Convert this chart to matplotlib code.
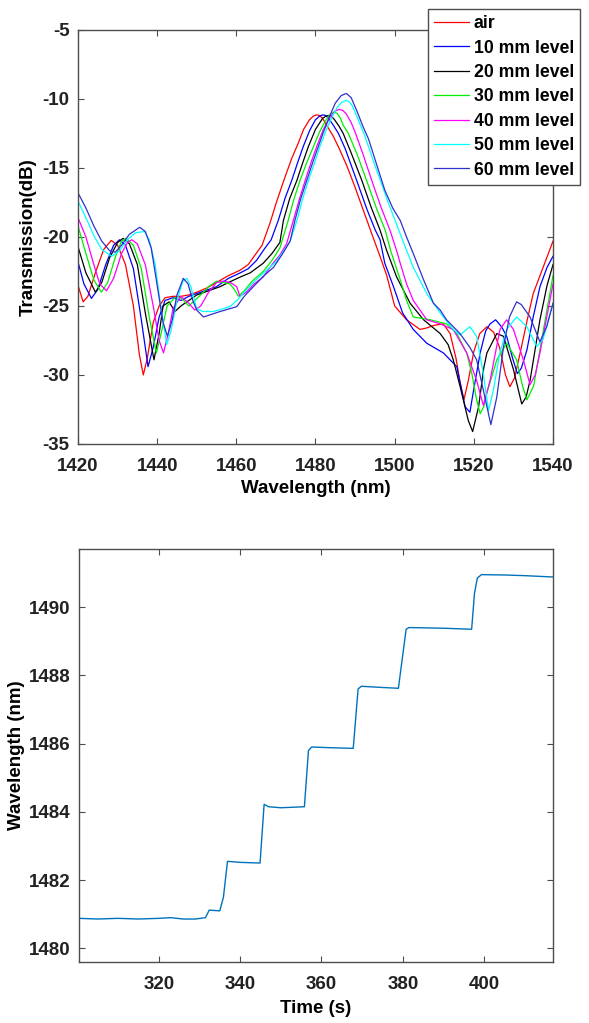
# Transmission spectra at several liquid levels, plus resonance wavelength vs time.

import matplotlib.pyplot as plt

# ── data: spectra (wavelength nm, transmission dB) ────────────────────────────
wl_air = [1420.0, 1421.3, 1422.5, 1424.5, 1426.5, 1428.4, 1430.0, 1432.0, 1434.0, 1435.5,
          1436.5, 1437.5, 1439.0, 1440.5, 1442.0, 1444.0, 1446.0, 1448.0, 1450.0, 1452.5,
          1455.0, 1458.0, 1461.0, 1463.0, 1465.0, 1466.5, 1468.5, 1470.0, 1472.0, 1474.0,
          1475.5, 1477.0, 1478.5, 1479.4, 1480.3, 1481.0, 1481.8, 1483.0, 1484.5, 1486.0,
          1488.0, 1490.0, 1492.0, 1494.0, 1496.3, 1498.0, 1500.0, 1503.0, 1506.4, 1508.0,
          1510.0, 1512.3, 1514.0, 1515.5, 1516.5, 1517.5, 1518.6, 1520.0, 1521.5, 1523.3,
          1525.0, 1526.5, 1528.0, 1529.1, 1530.3, 1531.7, 1533.5, 1535.0, 1537.5, 1540.0]
tr_air = [-23.5, -24.7, -24.3, -22.5, -20.9, -20.25, -20.6, -22.0, -25.0, -28.5,
          -30.0, -28.8, -26.2, -25.0, -24.4, -24.3, -24.3, -24.2, -24.0, -23.7,
          -23.3, -22.8, -22.4, -22.0, -21.2, -20.6, -19.0, -17.6, -15.9, -14.3,
          -13.3, -12.2, -11.5, -11.25, -11.15, -11.2, -11.4, -12.0, -12.7, -13.6,
          -14.9, -16.4, -18.0, -19.6, -21.4, -22.8, -25.0, -26.0, -26.7, -26.6,
          -26.4, -26.3, -27.0, -28.8, -30.5, -31.8, -30.4, -28.3, -27.0, -26.5,
          -26.9, -28.0, -30.0, -30.85, -30.2, -28.4, -26.0, -24.1, -22.2, -20.3]

wl_10 = [1420.0, 1421.5, 1423.4, 1425.0, 1427.0, 1429.0, 1430.5, 1432.0, 1434.0, 1436.0,
         1437.7, 1439.0, 1440.5, 1442.0, 1444.0, 1446.0, 1448.0, 1450.0, 1452.0, 1455.0,
         1458.0, 1461.0, 1463.0, 1465.1, 1467.0, 1468.8, 1470.6, 1472.3, 1474.0, 1475.5,
         1476.9, 1478.5, 1480.0, 1481.0, 1481.8, 1482.6, 1483.3, 1484.5, 1485.8, 1487.5,
         1490.4, 1493.0, 1495.1, 1496.3, 1497.5, 1499.7, 1502.0, 1504.7, 1508.1, 1512.3,
         1515.7, 1517.0, 1517.8, 1519.0, 1520.0, 1521.6, 1523.0, 1524.1, 1525.5, 1527.0,
         1528.3, 1529.8, 1531.0, 1532.0, 1533.4, 1535.0, 1536.7, 1538.5, 1540.0]
tr_10 = [-21.8, -23.4, -24.45, -23.8, -22.0, -20.6, -20.2, -20.6, -22.3, -26.0,
         -29.4, -28.0, -25.8, -24.6, -24.4, -24.6, -24.3, -24.1, -23.9, -23.6,
         -23.0, -22.6, -22.3, -21.7, -20.9, -20.2, -18.8, -17.2, -15.9, -14.6,
         -13.45, -12.3, -11.5, -11.25, -11.15, -11.2, -11.4, -11.9, -12.5, -13.6,
         -15.9, -18.0, -19.5, -20.2, -21.9, -23.6, -25.5, -26.7, -27.7, -28.4,
         -29.4, -31.2, -32.3, -32.7, -31.0, -28.4, -26.8, -26.3, -26.0, -26.5,
         -27.2, -28.8, -29.9, -29.5, -28.2, -25.8, -23.6, -22.2, -21.4]

wl_20 = [1420.0, 1422.0, 1424.4, 1426.0, 1428.0, 1430.0, 1431.4, 1433.0, 1435.0, 1437.0,
         1439.2, 1440.5, 1441.5, 1443.0, 1444.5, 1446.0, 1448.0, 1450.0, 1452.0, 1455.9,
         1458.0, 1461.0, 1463.5, 1466.8, 1469.0, 1471.0, 1471.9, 1473.5, 1475.3, 1476.8,
         1478.2, 1480.0, 1481.8, 1482.6, 1483.3, 1484.0, 1484.8, 1486.0, 1487.0, 1489.0,
         1491.7, 1494.0, 1496.3, 1498.0, 1500.5, 1503.9, 1507.3, 1511.5, 1513.5, 1514.8,
         1516.5, 1518.6, 1519.7, 1521.2, 1522.5, 1523.3, 1525.8, 1527.5, 1530.0, 1532.1,
         1533.2, 1534.2, 1536.7, 1538.5, 1540.0]
tr_20 = [-20.7, -22.6, -24.0, -23.3, -21.5, -20.4, -20.1, -20.5, -22.0, -25.5,
         -28.9, -27.0, -25.0, -24.7, -25.4, -25.0, -24.6, -24.2, -24.0, -23.6,
         -23.3, -22.9, -22.6, -21.9, -21.2, -20.4, -18.8, -17.2, -15.9, -14.6,
         -13.45, -12.2, -11.4, -11.25, -11.2, -11.25, -11.5, -12.0, -12.5, -13.9,
         -15.9, -17.8, -19.5, -21.0, -22.9, -24.8, -26.0, -27.0, -27.8, -28.9,
         -30.8, -33.3, -34.1, -32.3, -29.5, -28.4, -27.0, -27.2, -29.6, -32.1,
         -31.6, -30.4, -26.0, -23.5, -22.0]

wl_30 = [1420.0, 1422.0, 1424.0, 1425.9, 1427.5, 1429.5, 1431.0, 1432.2, 1434.0, 1436.0,
         1438.0, 1439.8, 1441.0, 1442.5, 1444.5, 1446.0, 1448.0, 1449.5, 1451.0, 1453.0,
         1455.0, 1458.4, 1459.5, 1460.5, 1462.0, 1464.0, 1466.8, 1469.0, 1471.0, 1473.1,
         1474.5, 1476.1, 1477.8, 1479.5, 1481.0, 1482.5, 1483.7, 1484.7, 1485.5, 1486.3,
         1487.0, 1488.3, 1490.5, 1492.9, 1495.5, 1497.6, 1499.0, 1501.4, 1503.0, 1504.7,
         1509.0, 1513.1, 1515.7, 1518.2, 1519.5, 1520.7, 1521.6, 1522.5, 1523.3, 1525.8,
         1528.3, 1530.8, 1532.3, 1533.4, 1535.1, 1537.6, 1540.0]
tr_30 = [-19.2, -21.2, -23.1, -24.0, -23.3, -21.4, -20.3, -20.1, -20.6, -22.3,
         -25.8, -28.4, -27.0, -25.0, -24.4, -24.4, -25.0, -24.6, -24.2, -23.6,
         -23.2, -23.4, -23.8, -24.3, -23.9, -23.2, -22.5, -21.7, -20.8, -18.8,
         -17.3, -15.9, -14.6, -13.45, -12.4, -11.6, -11.1, -10.95, -11.05, -11.4,
         -11.9, -12.5, -14.0, -15.9, -18.0, -19.5, -21.0, -23.1, -24.6, -25.8,
         -26.0, -26.3, -27.0, -28.4, -29.9, -31.8, -32.8, -32.3, -31.3, -28.9,
         -27.7, -28.9, -30.8, -31.8, -30.8, -26.7, -22.8]

wl_40 = [1420.0, 1422.0, 1424.0, 1425.5, 1427.2, 1429.0, 1431.0, 1432.5, 1433.6, 1435.0,
         1437.0, 1439.0, 1440.5, 1441.6, 1442.8, 1444.0, 1446.0, 1448.0, 1449.5, 1451.0,
         1453.0, 1455.0, 1456.7, 1458.5, 1460.1, 1460.9, 1462.5, 1464.5, 1466.8, 1469.0,
         1471.0, 1472.7, 1474.4, 1476.0, 1477.4, 1479.0, 1480.3, 1482.0, 1483.5, 1484.8,
         1486.0, 1487.0, 1487.8, 1489.0, 1490.0, 1492.0, 1494.2, 1496.5, 1498.8, 1500.5,
         1501.4, 1503.0, 1504.7, 1508.1, 1511.5, 1514.8, 1518.2, 1520.7, 1522.4, 1524.1,
         1526.6, 1528.3, 1530.0, 1532.5, 1534.2, 1535.5, 1536.7, 1540.0]
tr_40 = [-18.6, -20.0, -22.0, -23.4, -23.9, -23.0, -21.2, -20.4, -20.2, -20.5,
         -22.0, -25.0, -27.5, -28.4, -27.0, -25.2, -24.3, -24.8, -25.3, -25.0,
         -24.0, -23.3, -23.2, -23.3, -23.6, -24.3, -24.0, -23.4, -22.9, -22.0,
         -21.3, -20.5, -18.8, -17.2, -15.9, -14.5, -13.45, -12.2, -11.4, -10.9,
         -10.75, -10.85, -11.1, -11.7, -12.4, -14.0, -15.9, -17.8, -19.5, -21.0,
         -21.9, -23.4, -24.6, -26.0, -26.3, -26.7, -28.4, -30.4, -32.2, -30.4,
         -26.7, -26.0, -26.7, -28.9, -30.7, -30.0, -28.4, -23.4]

wl_50 = [1420.0, 1422.0, 1424.0, 1426.0, 1428.5, 1430.5, 1432.5, 1434.5, 1436.8, 1438.0,
         1439.5, 1440.8, 1442.4, 1443.5, 1445.0, 1446.5, 1447.5, 1448.5, 1450.0, 1451.5,
         1454.2, 1458.4, 1460.5, 1462.6, 1465.0, 1467.7, 1470.0, 1472.0, 1473.6, 1475.3,
         1476.8, 1478.2, 1479.8, 1481.1, 1482.5, 1484.0, 1485.5, 1486.6, 1487.7, 1488.5,
         1489.3, 1490.5, 1492.5, 1494.5, 1496.5, 1498.5, 1500.1, 1502.5, 1504.7, 1508.1,
         1511.5, 1514.8, 1516.5, 1519.0, 1520.7, 1522.4, 1523.7, 1525.0, 1526.5, 1528.3,
         1530.8, 1533.4, 1535.9, 1537.5, 1540.0]
tr_50 = [-17.4, -18.6, -19.9, -20.9, -21.4, -21.0, -20.2, -19.7, -19.6, -20.2,
         -22.0, -24.8, -27.8, -26.8, -24.6, -23.2, -23.0, -23.6, -25.2, -25.4,
         -25.4, -25.05, -24.5, -23.8, -23.1, -22.4, -21.8, -21.0, -20.3, -18.8,
         -17.2, -15.9, -14.6, -13.45, -12.4, -11.4, -10.6, -10.25, -10.1, -10.2,
         -10.5, -11.3, -12.7, -14.4, -16.0, -17.6, -18.8, -20.6, -22.2, -24.1,
         -25.5, -26.7, -27.1, -26.5, -27.2, -29.9, -32.6, -31.0, -28.5, -26.7,
         -25.8, -26.5, -27.95, -27.4, -24.8]

wl_60 = [1420.0, 1422.0, 1424.0, 1426.0, 1428.0, 1429.4, 1431.0, 1433.0, 1435.6, 1437.0,
         1438.5, 1440.0, 1441.5, 1442.6, 1443.8, 1445.0, 1446.6, 1447.8, 1449.0, 1450.0,
         1451.7, 1455.9, 1460.1, 1462.0, 1464.3, 1467.0, 1469.4, 1471.5, 1473.6, 1474.8,
         1476.3, 1477.8, 1479.3, 1480.7, 1482.0, 1483.5, 1485.0, 1486.5, 1487.8, 1489.0,
         1490.5, 1492.0, 1493.4, 1495.5, 1497.5, 1499.5, 1501.4, 1503.0, 1504.7, 1507.3,
         1509.8, 1511.5, 1513.1, 1516.5, 1519.0, 1520.7, 1522.4, 1524.3, 1525.8, 1527.5,
         1529.0, 1530.8, 1532.0, 1534.2, 1536.7, 1538.4, 1540.0]
tr_60 = [-16.8, -17.9, -19.2, -20.3, -21.0, -21.1, -20.6, -19.8, -19.3, -19.6,
         -20.8, -23.5, -26.2, -27.2, -26.0, -24.2, -23.0, -23.4, -24.6, -25.3,
         -25.8, -25.4, -25.05, -24.3, -23.6, -22.8, -22.2, -21.3, -20.3, -18.8,
         -17.2, -15.9, -14.6, -13.45, -12.4, -11.3, -10.3, -9.75, -9.6, -9.9,
         -10.9, -12.0, -12.9, -14.8, -16.6, -17.9, -18.8, -20.0, -21.2, -23.1,
         -24.8, -25.3, -26.0, -27.0, -28.0, -28.9, -31.1, -33.6, -31.6, -27.95,
         -25.8, -24.7, -24.9, -25.8, -27.6, -26.5, -24.8]

labels = ['air', '10 mm level', '20 mm level', '30 mm level',
          '40 mm level', '50 mm level', '60 mm level']
colors = ['#ff0000', '#0000ff', '#000000', '#00ee00', '#ff00ff', '#00ffff', '#3030d0']

# ── data: resonance wavelength tracking ───────────────────────────────────────
time_s = [300.4, 305.0, 310.0, 315.0, 320.0, 323.0, 326.0, 329.0, 331.5, 332.4,
          335.0, 335.9, 336.9, 340.0, 344.9, 345.9, 347.0, 350.0, 355.8, 356.8,
          357.6, 362.0, 367.8, 369.0, 369.8, 374.0, 378.9, 380.8, 381.5, 390.0,
          396.9, 397.6, 398.3, 399.3, 405.0, 410.0, 417.0]
peak_wl = [1480.88, 1480.86, 1480.88, 1480.86, 1480.88, 1480.90, 1480.86, 1480.86, 1480.90, 1481.12,
           1481.10, 1481.50, 1482.55, 1482.52, 1482.50, 1484.22, 1484.15, 1484.12, 1484.15, 1485.80,
           1485.90, 1485.88, 1485.86, 1487.60, 1487.68, 1487.65, 1487.62, 1489.35, 1489.40, 1489.38,
           1489.35, 1490.40, 1490.85, 1490.95, 1490.94, 1490.92, 1490.88]

# ── plot style (MATLAB-like) ──────────────────────────────────────────────────
plt.rcParams.update({
    'font.family': 'Liberation Sans',
    'font.weight': 'bold',
    'font.size': 13.5,
    'axes.labelweight': 'bold',
    'axes.unicode_minus': False,
    'axes.edgecolor': '#4d4d4d',
    'axes.linewidth': 1.0,
    'xtick.direction': 'in',
    'ytick.direction': 'in',
    'xtick.top': True,
    'ytick.right': True,
    'xtick.major.size': 4,
    'ytick.major.size': 4,
    'xtick.major.pad': 10,
    'ytick.major.pad': 6,
    'xtick.color': '#4d4d4d',
    'ytick.color': '#4d4d4d',
    'xtick.labelcolor': '#222222',
    'ytick.labelcolor': '#222222',
})

fig = plt.figure(figsize=(5.89, 10.23), dpi=100)

# ── top panel: spectra ────────────────────────────────────────────────────────
ax1 = fig.add_axes([0.1324, 0.5660, 0.8065, 0.4047])
spectra = [(wl_air, tr_air), (wl_10, tr_10), (wl_20, tr_20), (wl_30, tr_30),
           (wl_40, tr_40), (wl_50, tr_50), (wl_60, tr_60)]
for (wl, tr), lab, c in zip(spectra, labels, colors):
    ax1.plot(wl, tr, color=c, lw=0.9, label=lab)
ax1.set_xlim(1420, 1540)
ax1.set_ylim(-35, -5)
ax1.set_xticks(range(1420, 1541, 20))
ax1.set_yticks(range(-35, -4, 5))
ax1.set_xlabel('Wavelength (nm)', labelpad=4)
ax1.set_ylabel('Transmission(dB)', labelpad=4)

leg = ax1.legend(loc='upper left', bbox_to_anchor=(428 / 589, 1 - 9 / 1023),
                 bbox_transform=fig.transFigure, fontsize=12.7, frameon=True,
                 fancybox=False, framealpha=1, edgecolor='#4d4d4d',
                 handlelength=2.0, handletextpad=0.25, labelspacing=0.42,
                 borderpad=0.35, borderaxespad=0)
leg.get_frame().set_linewidth(1.0)

# ── bottom panel: wavelength vs time ──────────────────────────────────────────
ax2 = fig.add_axes([0.1341, 0.0596, 0.8048, 0.4037])
ax2.plot(time_s, peak_wl, color='#0072BD', lw=1.0)
ax2.set_xlim(300.4, 416.9)
ax2.set_ylim(1479.6, 1491.7)
ax2.set_xticks(range(320, 401, 20))
ax2.set_yticks(range(1480, 1491, 2))
ax2.set_xlabel('Time (s)', labelpad=5)
ax2.set_ylabel('Wavelength (nm)', labelpad=3)

fig.savefig('out.png', dpi=100)
